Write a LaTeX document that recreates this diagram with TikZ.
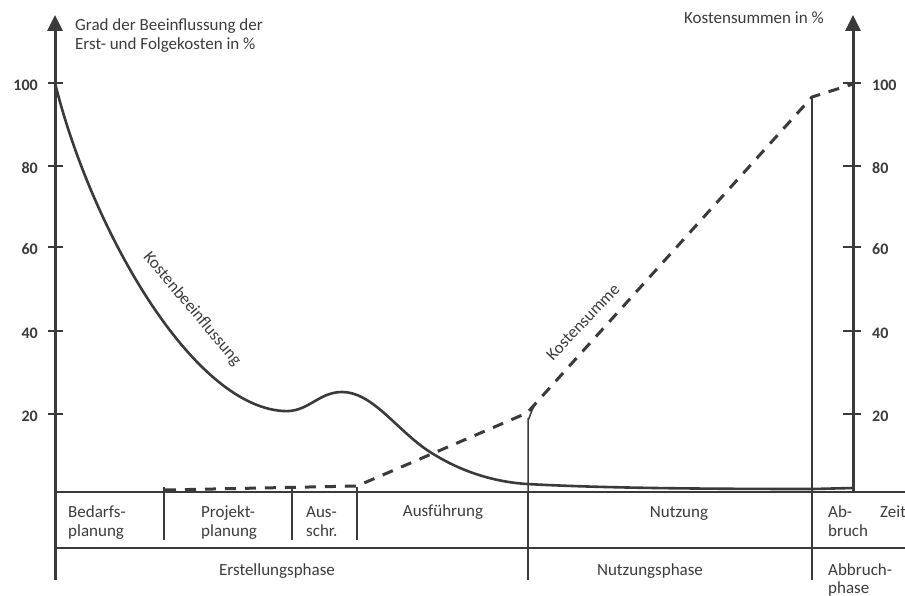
\documentclass[tikz,border=0pt]{standalone}
\usepackage{fontspec}
\setmainfont{Carlito}
\usetikzlibrary{arrows.meta}
\definecolor{ink}{HTML}{3A3A3A}
\definecolor{txt}{HTML}{3C3C3C}
\begin{document}
\begin{tikzpicture}[x=1pt,y=-1pt,
  axisline/.style={line width=3pt, draw=ink, -{Triangle[length=16pt,width=15pt]}},
  tickline/.style={line width=2pt, draw=ink},
  tablerule/.style={line width=2.4pt, draw=ink},
  divider/.style={line width=2pt, draw=ink},
  thinrule/.style={line width=1.5pt, draw=ink},
  infl/.style={line width=2.6pt, draw=ink, line cap=round, line join=round},
  sumline/.style={line width=3pt, draw=ink, dash pattern=on 11pt off 9pt, line join=round},
  lbl/.style={text=txt, inner sep=0pt, font=\fontsize{17}{19}\selectfont},
  ticklbl/.style={text=ink, inner sep=0pt, font=\fontsize{16}{18}\selectfont\bfseries}
]
\useasboundingbox (0,0) rectangle (905,596);
% coordinates
\coordinate (Lbot) at (55,580);
\coordinate (Ltop) at (55,15);
\coordinate (Rbot) at (853,492);
\coordinate (Rtop) at (853,15);
\coordinate (TopA) at (55,492);
\coordinate (TopB) at (905,492);
\coordinate (MidA) at (55,548);
\coordinate (MidB) at (905,548);
% table rules
\draw[tablerule] (TopA) -- (TopB);
\draw[tablerule] (MidA) -- (MidB);
% dividers
\coordinate (d1a) at (164,487); \coordinate (d1b) at (164,540);
\coordinate (d2a) at (292,487); \coordinate (d2b) at (292,540);
\coordinate (d3a) at (357,487); \coordinate (d3b) at (357,540);
\draw[divider] (d1a) -- (d1b);
\draw[divider] (d2a) -- (d2b);
\draw[divider] (d3a) -- (d3b);
\coordinate (d4b) at (528,580); \coordinate (d4m) at (528,492); \coordinate (d4t) at (528,418); \coordinate (d4h) at (535,405);
\draw[divider] (d4b) -- (d4m);
\draw[thinrule] (d4m) -- (d4t) to[out=-90,in=-130] (d4h);
\coordinate (d5b) at (812,580); \coordinate (d5m) at (812,492); \coordinate (d5t) at (812,97);
\draw[divider] (d5b) -- (d5m);
\draw[thinrule] (d5m) -- (d5t);
% axes
\draw[axisline] (Lbot) -- (Ltop);
\draw[axisline] (Rbot) -- (Rtop);
% ticks
\foreach \v/\yy in {100/83,80/166,60/247,40/331,20/414}{
  \draw[tickline] (48,\yy) -- (63,\yy);
  \node[ticklbl, anchor=east] (lt\v) at (38,\yy+2) {\v};
  \draw[tickline] (843,\yy) -- (861,\yy);
  \node[ticklbl, anchor=west] (rt\v) at (872,\yy+2) {\v};
}
% Kostenbeeinflussung curve
\coordinate (k0) at (55,83);
\coordinate (k1) at (283,411);
\coordinate (k2) at (342,392);
\coordinate (k3) at (427,450);
\coordinate (k4) at (527,484);
\coordinate (k5) at (813,489);
\coordinate (k6) at (853,488);
\draw[infl] (k0) .. controls (90,225) and (190,405) .. (k1)
  .. controls (308,413) and (318,392) .. (k2)
  .. controls (372,392) and (395,428) .. (k3)
  .. controls (460,472) and (495,482) .. (k4)
  .. controls (600,488) and (700,489) .. (k5) -- (k6);
% Kostensumme dashed
\coordinate (s0) at (165,490);
\coordinate (s1) at (357,486);
\coordinate (s2) at (527,413);
\coordinate (s3) at (812,97);
\coordinate (s4) at (853,84);
\draw[sumline] (s0) -- (s1) -- (s2) -- (s3) -- (s4);
% axis titles
\node[lbl, anchor=base west] (titleA) at (75,31) {Grad der Beeinflussung der};
\node[lbl, anchor=base west] (titleB) at (75,49.5) {Erst- und Folgekosten in \%};
\node[lbl, anchor=base east] (titleR) at (824,24) {Kostensummen in \%};
% curve labels
\node[lbl, rotate=-50] (kb) at (192,309) {Kostenbeeinflussung};
\node[lbl, rotate=46.5] (ks) at (583,322) {Kostensumme};
% table row 1
\node[lbl, anchor=base west] (c1a) at (68,517) {Bedarfs-};
\node[lbl, anchor=base west] (c1b) at (68,536) {planung};
\node[lbl, anchor=base west] (c2a) at (201,517) {Projekt-};
\node[lbl, anchor=base west] (c2b) at (201,536) {planung};
\node[lbl, anchor=base west] (c3a) at (306,517) {Aus-};
\node[lbl, anchor=base west] (c3b) at (306,536) {schr.};
\node[lbl, anchor=base] (c4) at (443,516) {Ausführung};
\node[lbl, anchor=base] (c5) at (679,517) {Nutzung};
\node[lbl, anchor=base west] (c6a) at (828,517) {Ab-};
\node[lbl, anchor=base west] (c6b) at (828,536) {bruch};
\node[lbl, anchor=base west] (zeit) at (880,517) {Zeit};
% table row 2
\node[lbl, anchor=base] (p1) at (277,575) {Erstellungsphase};
\node[lbl, anchor=base] (p2) at (650,575) {Nutzungsphase};
\node[lbl, anchor=base west] (p3a) at (828,575) {Abbruch-};
\node[lbl, anchor=base west] (p3b) at (828,593) {phase};
\end{tikzpicture}
\end{document}
